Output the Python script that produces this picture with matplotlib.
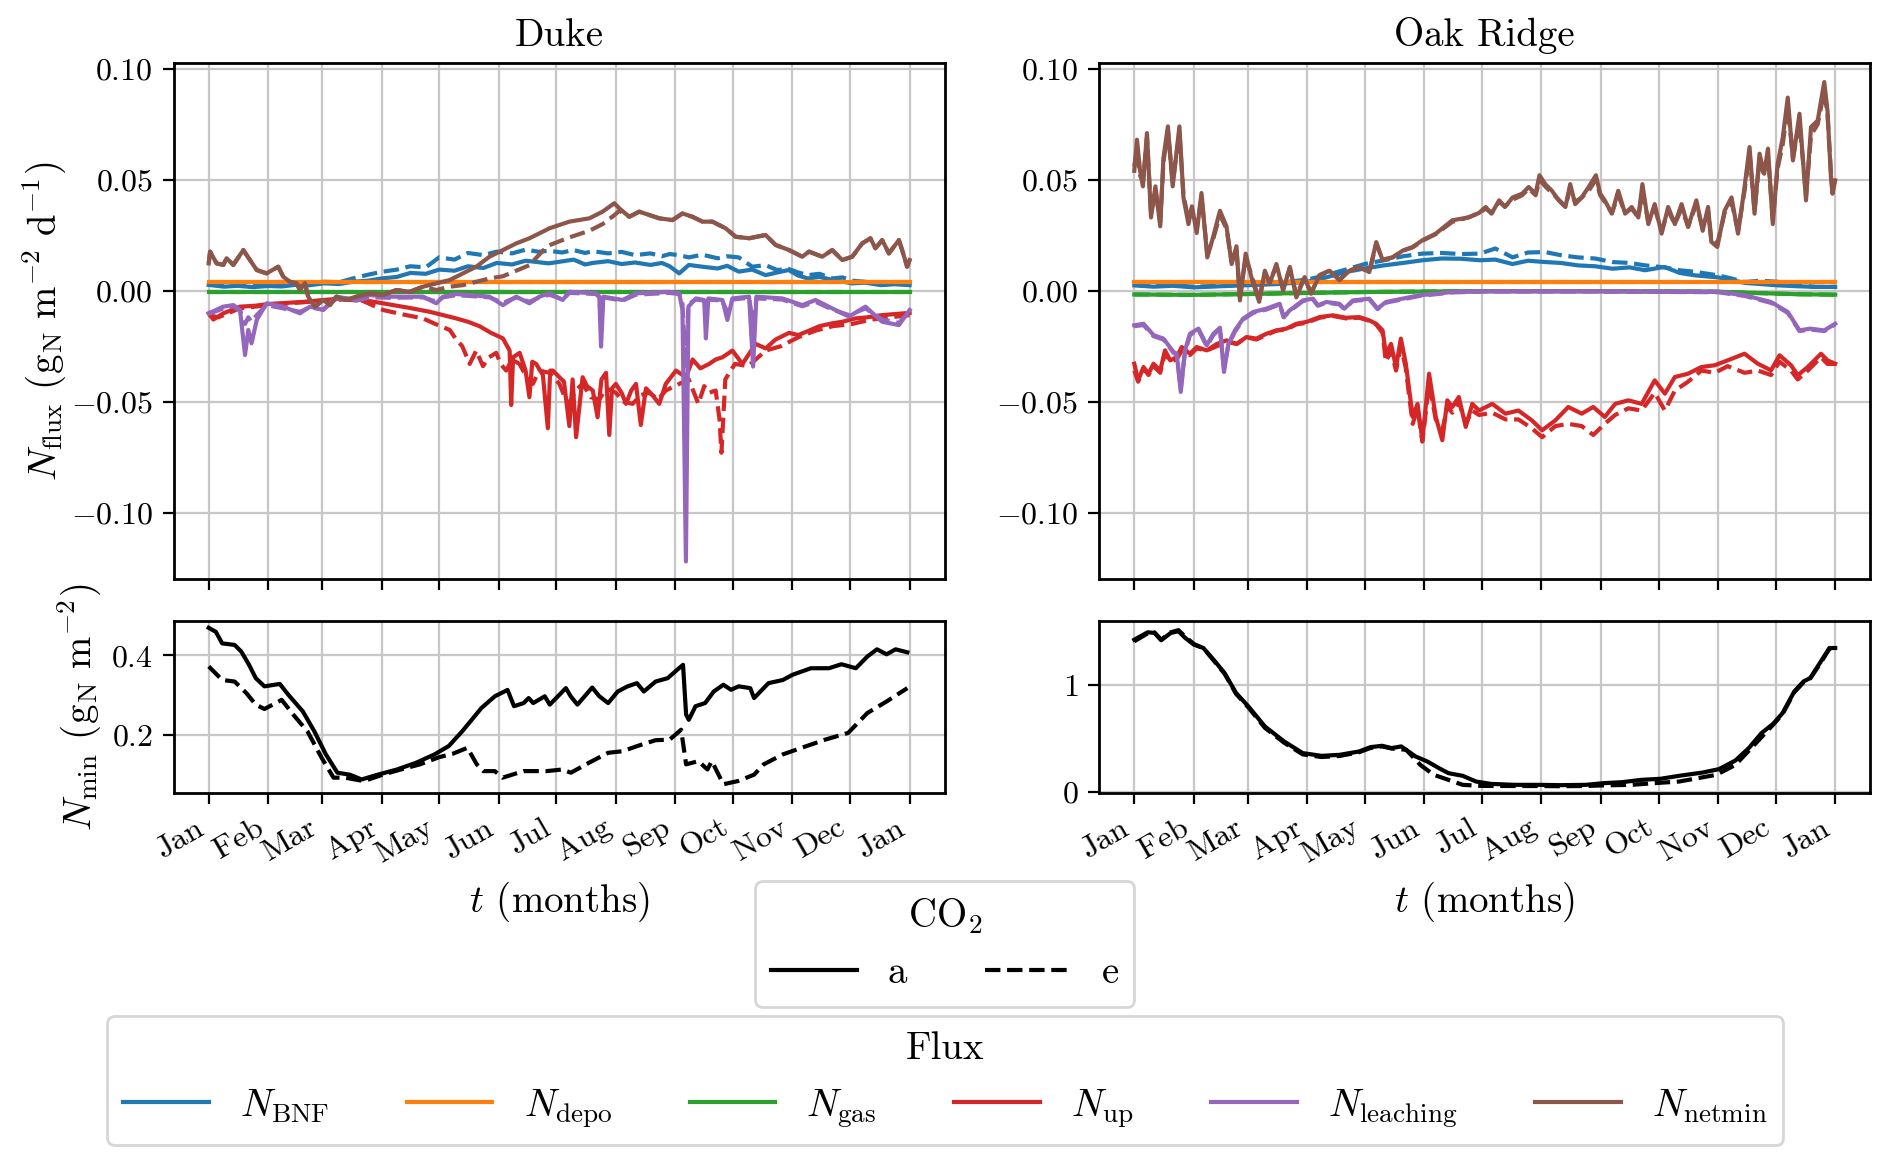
# N fluxes and mineral N over one year, Duke and Oak Ridge (ambient vs elevated CO2)

import numpy as np
import matplotlib
matplotlib.use('Agg')
from matplotlib import pyplot as plt
from matplotlib.lines import Line2D

plt.rcParams['font.family'] = 'serif'
plt.rcParams['font.serif'] = ['cmr10']
plt.rcParams['mathtext.fontset'] = 'cm'
plt.rcParams['axes.formatter.use_mathtext'] = True

# ---------------------------------------------------------------- data
# x values are day of year (0 = 1 Jan, 365 = 1 Jan next year)
month_starts = [0, 31, 59, 90, 120, 151, 181, 212, 243, 273, 304, 334, 365]
month_labels = ['Jan', 'Feb', 'Mar', 'Apr', 'May', 'Jun', 'Jul',
                'Aug', 'Sep', 'Oct', 'Nov', 'Dec', 'Jan']

flux_names = [r'$N_{\rm BNF}$', r'$N_{\rm depo}$', r'$N_{\rm gas}$',
              r'$N_{\rm up}$', r'$N_{\rm leaching}$', r'$N_{\rm netmin}$']
flux_colors = ['tab:blue', 'tab:orange', 'tab:green', 'tab:red', 'tab:purple', 'tab:brown']

# --- Duke
duke_bnf_days = [0, 8, 15, 23, 31, 38, 45, 52, 60, 68,
                 75, 83, 90, 98, 105, 113, 120, 128, 135, 143,
                 150, 158, 165, 172, 177, 184, 190, 196, 200, 208,
                 215, 222, 230, 236, 240, 245, 250, 257, 265, 270,
                 276, 283, 290, 296, 302, 307, 312, 318, 325, 330,
                 335, 342, 350, 357, 365]
duke_bnf_a = [0.0026, 0.0018, 0.0022, 0.0016, 0.0021, 0.0019, 0.0026, 0.0024, 0.0033, 0.0030,
              0.0040, 0.0045, 0.0055, 0.0062, 0.0080, 0.0076, 0.0095, 0.0090, 0.0110, 0.0102,
              0.0125, 0.0118, 0.0135, 0.0128, 0.0123, 0.0132, 0.0140, 0.0118, 0.0125, 0.0133,
              0.0120, 0.0127, 0.0116, 0.0125, 0.0110, 0.0078, 0.0116, 0.0108, 0.0100, 0.0112,
              0.0086, 0.0095, 0.0070, 0.0082, 0.0093, 0.0068, 0.0055, 0.0062, 0.0048, 0.0041,
              0.0033, 0.0036, 0.0025, 0.0029, 0.0025]
duke_bnf_e = [0.0030, 0.0024, 0.0028, 0.0022, 0.0026, 0.0024, 0.0031, 0.0030, 0.0040, 0.0038,
              0.0055, 0.0072, 0.0085, 0.0095, 0.0110, 0.0105, 0.0150, 0.0140, 0.0170, 0.0160,
              0.0176, 0.0168, 0.0185, 0.0175, 0.0180, 0.0172, 0.0183, 0.0170, 0.0178, 0.0168,
              0.0175, 0.0160, 0.0168, 0.0155, 0.0165, 0.0160, 0.0150, 0.0162, 0.0146, 0.0155,
              0.0150, 0.0108, 0.0115, 0.0093, 0.0098, 0.0082, 0.0070, 0.0076, 0.0055, 0.0060,
              0.0045, 0.0040, 0.0028, 0.0032, 0.0030]

depo_days = [0, 365]
duke_depo = [0.0038, 0.0038]
duke_gas = [-0.0005, -0.0005]

duke_up_a_days = [0, 2.4, 7.6, 16.3, 24, 31, 42.3, 50, 59.6, 70,
                  80.4, 90.8, 96, 102.9, 109, 115, 122, 128.9, 135, 141,
                  147, 153.2, 156.7, 157.5, 158.5, 161.9, 165, 167, 168.5, 170.5,
                  174, 176.6, 177.8, 179.2, 182.6, 185, 187.8, 189.5, 191.3, 194.7,
                  197, 200, 202.5, 204.5, 206.9, 208.6, 210, 212, 215, 217.3,
                  220, 222.5, 225, 227.7, 231, 234.6, 238, 243.3, 248.5, 252,
                  256, 260.6, 264, 267.5, 272.7, 277.9, 284.8, 290, 295.2, 302.2,
                  307, 312.6, 318, 324.7, 330, 336.8, 343, 350.7, 358, 365]
duke_up_a = [-0.0102, -0.013, -0.0102, -0.0072, -0.0068, -0.006, -0.0054, -0.0050, -0.0042, -0.0035,
             -0.0042, -0.0057, -0.0065, -0.0075, -0.0085, -0.0095, -0.011, -0.0125, -0.014, -0.016,
             -0.019, -0.0215, -0.027, -0.0515, -0.030, -0.028, -0.036, -0.048, -0.032, -0.033,
             -0.038, -0.062, -0.036, -0.036, -0.039, -0.041, -0.061, -0.040, -0.066, -0.039,
             -0.043, -0.045, -0.057, -0.040, -0.037, -0.065, -0.044, -0.042, -0.046, -0.051,
             -0.045, -0.042, -0.0605, -0.044, -0.047, -0.051, -0.042, -0.036, -0.039, -0.031,
             -0.035, -0.033, -0.031, -0.030, -0.027, -0.033, -0.024, -0.026, -0.022, -0.019,
             -0.020, -0.018, -0.016, -0.0147, -0.014, -0.0125, -0.012, -0.011, -0.0105, -0.010]
duke_up_e_days = [0, 5, 16, 31, 45, 60, 70, 80, 90.8, 100,
                  111.6, 118, 125.5, 128.9, 132, 135.9, 139.3, 142.8, 146, 149.7,
                  152, 154.9, 158, 161.8, 165, 168.8, 172, 177.4, 182.6, 185,
                  187.8, 191, 194.7, 199, 203.4, 207, 212, 216, 220.7, 225,
                  229.4, 234, 238, 245, 250, 255, 258, 260.6, 264, 266,
                  267, 269, 274, 281, 290, 298, 307, 316, 325, 335,
                  345, 355, 365]
duke_up_e = [-0.011, -0.012, -0.008, -0.0065, -0.0055, -0.0045, -0.0040, -0.0045, -0.0087, -0.0105,
             -0.0125, -0.015, -0.0177, -0.022, -0.025, -0.033, -0.027, -0.034, -0.030, -0.028,
             -0.033, -0.036, -0.031, -0.033, -0.038, -0.042, -0.036, -0.037, -0.042, -0.047,
             -0.051, -0.045, -0.042, -0.048, -0.049, -0.044, -0.046, -0.050, -0.051, -0.047,
             -0.046, -0.049, -0.045, -0.042, -0.040, -0.051, -0.043, -0.046, -0.045, -0.058,
             -0.073, -0.040, -0.033, -0.034, -0.027, -0.025, -0.021, -0.018, -0.016, -0.015,
             -0.013, -0.012, -0.011]

duke_leach_days = [0, 7.6, 12.8, 16.3, 18.9, 20.6, 22.3, 25, 30.1, 38.8,
                   47.5, 52.7, 59.6, 66.5, 76.9, 83.9, 94.3, 111.6, 118.5, 122,
                   128.9, 146.2, 153.2, 160.1, 167, 172.2, 177.4, 184.3, 187.8, 201.7,
                   203.4, 204.3, 205.5, 215.5, 222.5, 239.8, 245, 246.7, 248.5, 249.8,
                   253.7, 258, 258.9, 260.2, 267.5, 270.1, 272.7, 281.4, 283.5, 285.2,
                   298.7, 309.1, 316, 324.7, 333.4, 342, 350.7, 359.4, 365]
duke_leach_a = [-0.0102, -0.0072, -0.0065, -0.0087, -0.029, -0.0177, -0.0237, -0.0132, -0.0057, -0.0072,
                -0.0102, -0.0072, -0.0087, -0.0027, -0.0042, -0.002, -0.0027, -0.0027, -0.0057, -0.0027,
                -0.0015, -0.0027, -0.0065, -0.0027, -0.0057, -0.0027, -0.0012, -0.0042, -0.0005, -0.0012,
                -0.0027, -0.0252, -0.0027, -0.0042, -0.0012, -0.0005, -0.0012, -0.0087, -0.122, -0.0072,
                -0.0035, -0.0042, -0.0215, -0.0035, -0.0042, -0.0132, -0.0035, -0.0027, -0.0342, -0.0027,
                -0.0035, -0.0065, -0.0042, -0.008, -0.0117, -0.0072, -0.014, -0.0155, -0.0087]
duke_leach_e = [-0.0105, -0.0080, -0.0070, -0.0090, -0.0150, -0.0120, -0.0140, -0.0110, -0.0065, -0.0080,
                -0.0095, -0.0075, -0.0085, -0.0035, -0.0045, -0.0030, -0.0032, -0.0030, -0.0050, -0.0030,
                -0.0020, -0.0030, -0.0055, -0.0030, -0.0050, -0.0030, -0.0018, -0.0040, -0.0010, -0.0015,
                -0.0030, -0.0150, -0.0030, -0.0045, -0.0018, -0.0010, -0.0015, -0.0060, -0.0350, -0.0060,
                -0.0040, -0.0045, -0.0120, -0.0040, -0.0045, -0.0100, -0.0040, -0.0032, -0.0150, -0.0035,
                -0.0040, -0.0070, -0.0050, -0.0085, -0.0110, -0.0080, -0.0130, -0.0145, -0.0095]

duke_netmin_days = [0, 0.7, 4.1, 7.6, 9.3, 12.8, 18, 21.5, 25, 30.1,
                    36.2, 38.8, 42.3, 45.7, 47.5, 50.1, 51.8, 55.3, 59.6, 63.1,
                    66.5, 71.7, 76.9, 83.9, 90.8, 97.7, 104.7, 111.6, 118.5, 125.5,
                    132.4, 139.3, 146.2, 153.2, 160.1, 167, 174, 177.4, 187.8, 198.2,
                    205.1, 211.2, 213.8, 219, 224.2, 229.4, 234.6, 241.5, 246.7, 251.9,
                    257.1, 262.3, 269.2, 274.4, 281.4, 290, 295.2, 302.2, 309.1, 312.6,
                    319.5, 324.7, 329.9, 335.1, 340.3, 344.6, 347.2, 350.7, 354.2, 359.4,
                    361.1, 363.7, 365]
duke_netmin_a = [0.0123, 0.0176, 0.0123, 0.0116, 0.0146, 0.0116, 0.0183, 0.0138, 0.0093, 0.0078,
                 0.0108, 0.0063, 0.0040, 0.0033, 0.0003, 0.0033, -0.0027, -0.0072, -0.0042, -0.0065,
                 -0.0027, -0.0042, -0.0027, -0.0012, -0.0020, 0.0003, -0.0005, 0.0018, 0.0033, 0.0048,
                 0.0078, 0.0108, 0.0153, 0.0183, 0.0213, 0.0236, 0.0266, 0.0281, 0.0311, 0.0326,
                 0.0356, 0.0394, 0.0371, 0.0333, 0.0356, 0.0341, 0.0326, 0.0318, 0.0348, 0.0333,
                 0.0311, 0.0311, 0.0281, 0.0243, 0.0236, 0.0251, 0.0206, 0.0183, 0.0153, 0.0176,
                 0.0153, 0.0183, 0.0138, 0.0153, 0.0213, 0.0236, 0.0191, 0.0228, 0.0168, 0.0228,
                 0.0183, 0.0108, 0.0138]
duke_netmin_e = [0.0123, 0.0176, 0.0123, 0.0116, 0.0146, 0.0116, 0.0183, 0.0138, 0.0093, 0.0078,
                 0.0108, 0.0063, 0.0040, 0.0033, 0.0003, 0.0033, -0.0027, -0.0072, -0.0042, -0.0065,
                 -0.0027, -0.0042, -0.0027, -0.0012, -0.0020, 0.0003, -0.0005, 0.0018, 0.0003, 0.0018,
                 0.0025, 0.0040, 0.0055, 0.0065, 0.0090, 0.0115, 0.0180, 0.0205, 0.0240, 0.0270,
                 0.0300, 0.0340, 0.0360, 0.0333, 0.0356, 0.0341, 0.0326, 0.0318, 0.0348, 0.0333,
                 0.0311, 0.0311, 0.0281, 0.0243, 0.0236, 0.0251, 0.0206, 0.0183, 0.0153, 0.0176,
                 0.0153, 0.0183, 0.0138, 0.0153, 0.0213, 0.0236, 0.0191, 0.0228, 0.0168, 0.0228,
                 0.0183, 0.0108, 0.0138]

duke_nmin_a_days = [0, 3.7, 7, 13.5, 17, 21, 24.5, 29, 37, 41.6,
                    49, 55, 61, 67, 73.5, 79.6, 88, 98, 108, 117.6,
                    125, 132, 142, 149, 155.6, 159, 164, 166.6, 169, 175,
                    177.6, 186, 188.5, 192, 199.7, 203.4, 208, 213, 218, 223,
                    226.6, 232.7, 239, 243.8, 247, 248.6, 250, 253.5, 258.5, 263,
                    268, 272, 276, 282, 284, 291.5, 299, 304, 313.6, 323,
                    329.5, 337, 343, 348, 353, 357.7, 363.8]
duke_nmin_a = [0.469, 0.459, 0.43, 0.426, 0.409, 0.376, 0.3425, 0.322, 0.328, 0.30,
               0.259, 0.209, 0.151, 0.105, 0.10, 0.088, 0.10, 0.113, 0.13, 0.151,
               0.172, 0.209, 0.2675, 0.297, 0.313, 0.272, 0.28, 0.2925, 0.28, 0.297,
               0.276, 0.3175, 0.297, 0.276, 0.319, 0.297, 0.28, 0.309, 0.3217, 0.33,
               0.309, 0.334, 0.3425, 0.363, 0.376, 0.251, 0.238, 0.272, 0.28, 0.309,
               0.326, 0.3133, 0.322, 0.3175, 0.2925, 0.33, 0.338, 0.351, 0.3675, 0.3675,
               0.3775, 0.3675, 0.397, 0.415, 0.4025, 0.415, 0.4075]
duke_nmin_e_days = [0, 7, 13.5, 19.6, 24.5, 29, 38, 44, 51.4, 58.8,
                    65, 71, 80.8, 90.6, 100, 110, 120, 127, 134.7, 139.6,
                    143, 149, 153, 164, 176, 184, 188.6, 198, 208, 215.6,
                    223, 232.7, 240, 246, 248.6, 255, 259.7, 262, 268, 275.6,
                    284, 289, 299, 308.7, 321, 333, 343, 353, 363.8]
duke_nmin_e = [0.372, 0.338, 0.334, 0.305, 0.276, 0.265, 0.288, 0.251, 0.209, 0.1425,
               0.0925, 0.0925, 0.084, 0.10, 0.113, 0.126, 0.144, 0.1525, 0.1675, 0.126,
               0.109, 0.109, 0.0925, 0.109, 0.109, 0.113, 0.105, 0.13, 0.155, 0.159,
               0.1717, 0.1867, 0.188, 0.213, 0.126, 0.134, 0.113, 0.134, 0.076, 0.084,
               0.10, 0.126, 0.151, 0.1675, 0.188, 0.205, 0.255, 0.284, 0.3175]

# --- Oak Ridge
oak_bnf_days = [0, 10, 20, 31, 45, 60, 75, 90, 100, 110,
                120, 130, 140, 150, 160, 170, 180, 188, 197, 205,
                214, 222, 231, 240, 249, 258, 266, 276, 284, 292,
                304, 311, 318, 326, 335, 345, 355, 365]
oak_bnf_a = [0.0024, 0.0018, 0.0022, 0.0015, 0.0020, 0.0025, 0.0030, 0.0040, 0.0060, 0.0084,
             0.0100, 0.0114, 0.0125, 0.0137, 0.0145, 0.0144, 0.0137, 0.0140, 0.0120, 0.0135,
             0.0129, 0.0125, 0.0114, 0.0110, 0.0099, 0.0105, 0.0092, 0.0107, 0.0080, 0.0069,
             0.0060, 0.0048, 0.0035, 0.0030, 0.0024, 0.0020, 0.0017, 0.0017]
oak_bnf_e = [0.0026, 0.0020, 0.0024, 0.0018, 0.0022, 0.0030, 0.0035, 0.0050, 0.0070, 0.0095,
             0.0120, 0.0137, 0.0155, 0.0167, 0.0170, 0.0165, 0.0167, 0.0190, 0.0150, 0.0172,
             0.0174, 0.0160, 0.0150, 0.0145, 0.0129, 0.0125, 0.0114, 0.0105, 0.0092, 0.0085,
             0.0069, 0.0055, 0.0039, 0.0045, 0.0040, 0.0025, 0.0017, 0.0017]

oak_depo = [0.0038, 0.0038]
oak_gas_days = [0, 30, 60, 90, 120, 150, 180, 240, 300, 330, 345, 365]
oak_gas = [-0.0017, -0.0019, -0.0015, -0.0010, -0.0006, -0.0004, -0.0002, -0.0002, -0.0004,
           -0.0012, -0.0016, -0.0018]

oak_up_days = [0, 2, 4.8, 7.4, 10, 13.5, 16, 18.7, 22, 24.7,
               29, 32.5, 37.7, 43, 48, 53.3, 58.4, 63.6, 68.8, 74,
               79.2, 84.4, 89.6, 96.5, 103.4, 110.3, 117.2, 122.4, 125.9, 129.3,
               131, 133.7, 136.3, 138.8, 141.4, 143.2, 145, 147.5, 150, 153.5,
               157, 160.4, 163, 165.6, 169, 172.6, 176, 179.5, 186.4, 193.3,
               200, 207, 212.4, 219.3, 226, 233, 239, 245, 250.4, 257.3,
               264.2, 271, 276.3, 281.5, 288.4, 295.3, 302.3, 309, 317.8, 324.7,
               331.6, 336, 342, 345.5, 350.7, 357.6, 361, 365]
oak_up_a = [-0.0329, -0.0404, -0.0344, -0.0374, -0.0329, -0.036, -0.0269, -0.0314, -0.030, -0.0254,
            -0.0284, -0.0254, -0.0269, -0.024, -0.0224, -0.024, -0.0209, -0.0216, -0.0194, -0.0179,
            -0.0171, -0.0149, -0.0141, -0.0119, -0.0111, -0.0122, -0.0119, -0.0134, -0.0149, -0.0179,
            -0.0284, -0.024, -0.0344, -0.0216, -0.0329, -0.0449, -0.0569, -0.051, -0.0674, -0.0374,
            -0.0569, -0.0674, -0.0494, -0.0524, -0.0479, -0.0614, -0.051, -0.054, -0.051, -0.0554,
            -0.054, -0.0584, -0.0629, -0.0584, -0.0524, -0.0554, -0.0524, -0.0569, -0.051, -0.0494,
            -0.051, -0.0404, -0.0464, -0.0389, -0.0374, -0.0344, -0.0336, -0.0314, -0.0284, -0.0329,
            -0.0359, -0.0291, -0.0336, -0.0381, -0.0344, -0.0284, -0.0314, -0.0329]
oak_up_e = [-0.036, -0.041, -0.035, -0.038, -0.034, -0.037, -0.028, -0.032, -0.031, -0.027,
            -0.029, -0.026, -0.027, -0.025, -0.023, -0.024, -0.021, -0.022, -0.020, -0.018,
            -0.0175, -0.0152, -0.0145, -0.0122, -0.0114, -0.0125, -0.0122, -0.0136, -0.0152, -0.019,
            -0.032, -0.027, -0.036, -0.025, -0.035, -0.048, -0.060, -0.053, -0.068, -0.042,
            -0.058, -0.063, -0.052, -0.055, -0.050, -0.060, -0.054, -0.056, -0.055, -0.058,
            -0.058, -0.062, -0.066, -0.061, -0.060, -0.061, -0.065, -0.060, -0.056, -0.053,
            -0.054, -0.046, -0.054, -0.045, -0.041, -0.036, -0.037, -0.034, -0.037, -0.036,
            -0.038, -0.032, -0.036, -0.040, -0.036, -0.030, -0.033, -0.033]

oak_leach_days = [0, 4.8, 10, 15.2, 20.4, 22.1, 24.2, 26.4, 29, 33.4,
                  37.7, 41.2, 44.6, 46.7, 49, 52.4, 56.7, 61.9, 68.8, 75.7,
                  77.8, 80.9, 87.8, 93, 95.6, 100, 106.8, 109.4, 113.8, 122.4,
                  126.7, 131, 139.7, 148.3, 165.6, 183, 240, 304, 318, 331.6,
                  340.3, 346.4, 352, 359.3, 365]
oak_leach_a = [-0.0156, -0.0149, -0.020, -0.0216, -0.0276, -0.0284, -0.0456, -0.0269, -0.0194, -0.0171,
               -0.0246, -0.0194, -0.0167, -0.0366, -0.024, -0.0179, -0.0126, -0.0096, -0.0081, -0.0059,
               -0.0119, -0.0089, -0.0044, -0.0036, -0.0066, -0.0051, -0.0059, -0.0081, -0.0044, -0.0036,
               -0.0081, -0.0051, -0.0036, -0.0021, -0.0006, -0.0003, -0.0003, -0.0005, -0.0021, -0.0051,
               -0.0096, -0.0179, -0.0171, -0.0179, -0.0149]
oak_leach_e = [-0.016, -0.0155, -0.0205, -0.022, -0.028, -0.029, -0.044, -0.0275, -0.020, -0.0175,
               -0.025, -0.020, -0.017, -0.035, -0.0245, -0.0185, -0.013, -0.010, -0.0085, -0.0062,
               -0.012, -0.0092, -0.0047, -0.0039, -0.0068, -0.0054, -0.0062, -0.0083, -0.0047, -0.0039,
               -0.0083, -0.0054, -0.0039, -0.0024, -0.0008, -0.0004, -0.0004, -0.0007, -0.0024, -0.0055,
               -0.0100, -0.0182, -0.0175, -0.0182, -0.0152]

oak_netmin_days = [0, 1.4, 3, 4.5, 6.6, 8.7, 11, 13.5, 15.2, 17.5,
                   20, 23.5, 25.6, 28.2, 30, 32.5, 35, 38, 41, 44.6,
                   48, 50.7, 53.2, 55, 58, 61, 65, 68, 70.5, 74,
                   77.5, 81, 84.4, 88.7, 92, 96.5, 101.7, 106.8, 112, 117,
                   122.4, 126, 129.3, 134.5, 139.7, 145, 150, 157, 165.6, 174,
                   179.5, 183, 186, 190, 193, 197, 202, 205.4, 209, 211,
                   214, 217.5, 221, 224.5, 227, 229.6, 233, 236.6, 240.4, 242.6,
                   245, 248.7, 252, 255.6, 259, 262.5, 264.6, 267.7, 271, 274.6,
                   278, 281.5, 285, 288.4, 292.7, 296, 298.8, 300.5, 303.6, 307.4,
                   311, 314.4, 317.8, 320.4, 323, 325.6, 328, 330, 332.5, 335,
                   337.7, 340.3, 343, 346.4, 349.8, 352.4, 355.9, 359.3, 361, 362.8,
                   363.6, 365]
oak_netmin_a = [0.054, 0.068, 0.054, 0.047, 0.071, 0.033, 0.047, 0.029, 0.060, 0.074,
                0.047, 0.074, 0.042, 0.030, 0.038, 0.026, 0.044, 0.015, 0.024, 0.036,
                0.029, 0.012, 0.020, -0.0044, 0.0167, 0.006, -0.005, 0.009, 0.003, 0.012,
                0.0, 0.0107, -0.003, 0.006, -0.0014, 0.007, 0.009, 0.0047, 0.009, 0.0107,
                0.0084, 0.0219, 0.0137, 0.015, 0.018, 0.0197, 0.0227, 0.0257, 0.0317, 0.033,
                0.035, 0.0377, 0.0347, 0.0407, 0.0377, 0.042, 0.0437, 0.0467, 0.0437, 0.052,
                0.048, 0.045, 0.0407, 0.0377, 0.048, 0.039, 0.042, 0.0467, 0.052, 0.0437,
                0.0407, 0.0347, 0.045, 0.0347, 0.0377, 0.033, 0.048, 0.030, 0.039, 0.0257,
                0.0377, 0.030, 0.039, 0.0287, 0.0407, 0.027, 0.0377, 0.022, 0.0197, 0.036,
                0.042, 0.0257, 0.0467, 0.0647, 0.0347, 0.0617, 0.0527, 0.064, 0.030, 0.057,
                0.069, 0.087, 0.0587, 0.0797, 0.0407, 0.0737, 0.0767, 0.094, 0.081, 0.051,
                0.0437, 0.0497]
oak_netmin_e = [0.056, 0.064, 0.052, 0.049, 0.069, 0.035, 0.045, 0.031, 0.058, 0.072,
                0.049, 0.071, 0.043, 0.032, 0.037, 0.028, 0.042, 0.017, 0.023, 0.034,
                0.028, 0.013, 0.019, -0.003, 0.015, 0.007, -0.004, 0.008, 0.004, 0.011,
                0.001, 0.010, -0.002, 0.006, -0.001, 0.007, 0.009, 0.005, 0.009, 0.0105,
                0.0085, 0.021, 0.014, 0.015, 0.018, 0.0195, 0.0225, 0.0255, 0.031, 0.033,
                0.035, 0.037, 0.035, 0.040, 0.038, 0.041, 0.043, 0.046, 0.043, 0.050,
                0.047, 0.044, 0.041, 0.038, 0.046, 0.040, 0.042, 0.045, 0.050, 0.043,
                0.040, 0.035, 0.043, 0.035, 0.037, 0.033, 0.045, 0.031, 0.037, 0.027,
                0.036, 0.030, 0.037, 0.029, 0.039, 0.028, 0.036, 0.023, 0.021, 0.035,
                0.040, 0.027, 0.045, 0.062, 0.036, 0.059, 0.052, 0.061, 0.032, 0.055,
                0.066, 0.083, 0.060, 0.076, 0.043, 0.070, 0.075, 0.090, 0.079, 0.053,
                0.045, 0.050]

oak_nmin_a_days = [0, 7, 10.5, 14, 19, 23, 26.5, 31, 36, 42,
                   47, 53, 59.5, 68, 78, 87.7, 97.5, 107, 117, 123,
                   129, 134, 139, 146.5, 152.6, 158.7, 163.6, 171, 178, 185.7,
                   198, 210, 222, 235, 244.5, 254, 264, 274, 283.7, 296,
                   304.5, 313, 320, 326.6, 332.7, 337.6, 343.7, 348.6, 352, 357,
                   362, 365]
oak_nmin_a = [1.43, 1.50, 1.494, 1.425, 1.494, 1.51, 1.447, 1.384, 1.352, 1.226,
              1.116, 0.928, 0.80, 0.613, 0.472, 0.362, 0.336, 0.346, 0.377, 0.418,
              0.431, 0.409, 0.425, 0.33, 0.283, 0.22, 0.173, 0.148, 0.094, 0.072,
              0.063, 0.063, 0.06, 0.063, 0.079, 0.088, 0.11, 0.12, 0.148, 0.179,
              0.211, 0.292, 0.409, 0.55, 0.638, 0.739, 0.943, 1.038, 1.069, 1.21,
              1.352, 1.352]
oak_nmin_e_days = [0, 7, 10.5, 14, 19, 23, 26.5, 31, 36, 42,
                   47, 53, 59.5, 68, 78, 87.7, 97.5, 107, 117, 123,
                   129, 134, 141.6, 149, 156, 163.6, 171, 180.8, 198, 210,
                   222, 235, 244.5, 259, 271, 283.7, 303, 313, 322.9, 332.7,
                   337.6, 343.7, 348.6, 352, 357, 362, 365]
oak_nmin_e = [1.415, 1.49, 1.50, 1.43, 1.50, 1.52, 1.46, 1.39, 1.35, 1.22,
              1.11, 0.92, 0.79, 0.60, 0.46, 0.35, 0.325, 0.335, 0.37, 0.41,
              0.425, 0.405, 0.393, 0.25, 0.157, 0.11, 0.063, 0.053, 0.052, 0.052,
              0.05, 0.052, 0.058, 0.063, 0.079, 0.094, 0.157, 0.25, 0.44, 0.63,
              0.73, 0.935, 1.03, 1.065, 1.20, 1.345, 1.35]

# (days_a, values_a, days_e, values_e) per flux, same order as flux_names
duke_fluxes = [(duke_bnf_days, duke_bnf_a, duke_bnf_days, duke_bnf_e),
               (depo_days, duke_depo, depo_days, duke_depo),
               (depo_days, duke_gas, depo_days, duke_gas),
               (duke_up_a_days, duke_up_a, duke_up_e_days, duke_up_e),
               (duke_leach_days, duke_leach_a, duke_leach_days, duke_leach_e),
               (duke_netmin_days, duke_netmin_a, duke_netmin_days, duke_netmin_e)]
oak_fluxes = [(oak_bnf_days, oak_bnf_a, oak_bnf_days, oak_bnf_e),
              (depo_days, oak_depo, depo_days, oak_depo),
              (oak_gas_days, oak_gas, oak_gas_days, oak_gas),
              (oak_up_days, oak_up_a, oak_up_days, oak_up_e),
              (oak_leach_days, oak_leach_a, oak_leach_days, oak_leach_e),
              (oak_netmin_days, oak_netmin_a, oak_netmin_days, oak_netmin_e)]

# ---------------------------------------------------------------- figure
fig = plt.figure(figsize=(9.46, 5.82), dpi=200)

left_x, right_x, panel_w = 0.0918, 0.581, 0.4075
top_ax = [fig.add_axes([left_x, 0.5024, panel_w, 0.4437]),
          fig.add_axes([right_x, 0.5024, panel_w, 0.4437])]
bot_ax = [fig.add_axes([left_x, 0.3189, panel_w, 0.1472]),
          fig.add_axes([right_x, 0.3189, panel_w, 0.1472])]

lw = 1.5
for ax, fluxes in zip(top_ax, [duke_fluxes, oak_fluxes]):
    for (da, va, de, ve), col in zip(fluxes, flux_colors):
        ax.plot(da, va, color=col, lw=lw, ls='-')
        ax.plot(de, ve, color=col, lw=lw, ls='--')

bot_ax[0].plot(duke_nmin_a_days, duke_nmin_a, color='k', lw=lw, ls='-')
bot_ax[0].plot(duke_nmin_e_days, duke_nmin_e, color='k', lw=lw, ls='--')
bot_ax[1].plot(oak_nmin_a_days, oak_nmin_a, color='k', lw=lw, ls='-')
bot_ax[1].plot(oak_nmin_e_days, oak_nmin_e, color='k', lw=lw, ls='--')

# axes cosmetics
for ax in top_ax + bot_ax:
    ax.set_xlim(-18.25, 383.25)
    ax.set_xticks(month_starts)
    ax.grid(True, color='0.78', lw=0.8)
    ax.tick_params(labelsize=11.5, length=4, width=0.8)
    for s in ax.spines.values():
        s.set_linewidth(1.0)

for ax in top_ax:
    ax.set_ylim(-0.130, 0.1027)
    ax.set_yticks([-0.10, -0.05, 0.0, 0.05, 0.10])
    ax.tick_params(labelbottom=False)

for ax in bot_ax:
    ax.set_xticklabels(month_labels, rotation=30, ha='right')
    ax.set_xlabel(r'$t$ (months)', fontsize=14)

bot_ax[0].set_ylim(0.0545, 0.485)
bot_ax[0].set_yticks([0.2, 0.4])
bot_ax[1].set_ylim(-0.012, 1.602)
bot_ax[1].set_yticks([0, 1])

top_ax[0].set_title('Duke', fontsize=14)
top_ax[1].set_title('Oak Ridge', fontsize=14)
top_ax[0].set_ylabel(r'$N_{\rm flux}$ ($\rm g_N\ m^{-2}\ d^{-1}$)', fontsize=14, labelpad=1)
bot_ax[0].set_ylabel(r'$N_{\rm min}$ ($\rm g_N\ m^{-2}$)', fontsize=14, labelpad=3)

# legends
co2_handles = [Line2D([], [], color='k', lw=lw, ls='-'),
               Line2D([], [], color='k', lw=lw, ls='--')]
fig.legend(co2_handles, ['a', 'e'], title=r'CO$_2$', ncol=2,
           loc='upper center', bbox_to_anchor=(0.4994, 0.2432), borderaxespad=0,
           fontsize=14, title_fontsize=14, handlelength=2.2, columnspacing=2.0)

flux_handles = [Line2D([], [], color=c, lw=lw) for c in flux_colors]
fig.legend(flux_handles, flux_names, title='Flux', ncol=6,
           loc='upper center', bbox_to_anchor=(0.4997, 0.1271), borderaxespad=0,
           fontsize=14, title_fontsize=14, handlelength=2.2, columnspacing=2.0)

fig.savefig('out.png', dpi=200)
